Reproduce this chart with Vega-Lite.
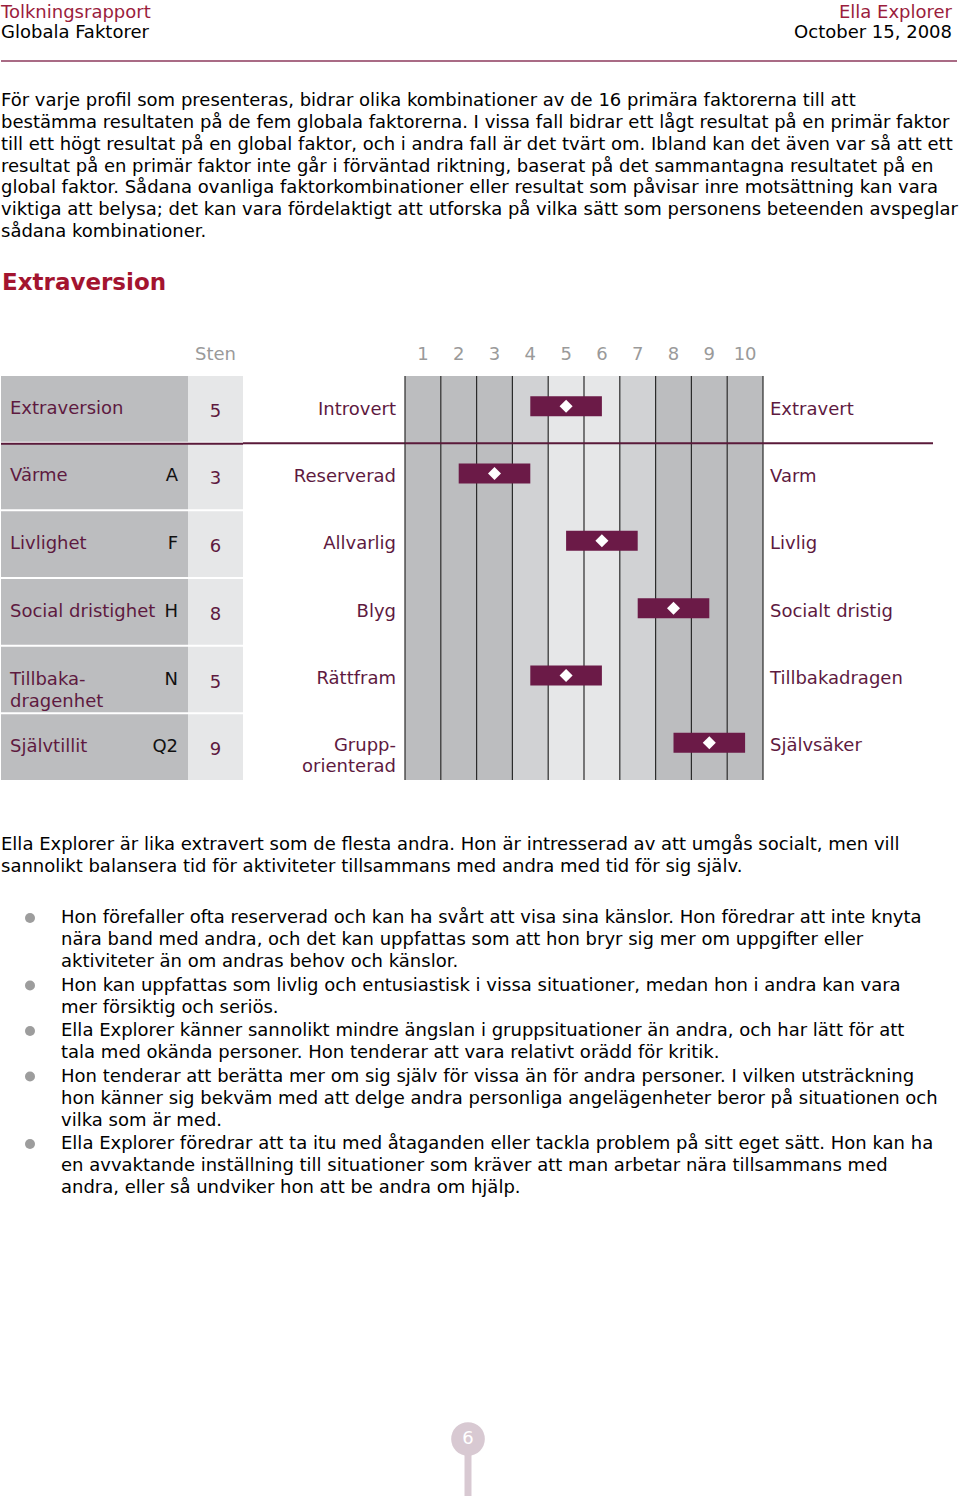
{
  "$schema": "https://vega.github.io/schema/vega-lite/v6.json",
  "padding": 0,
  "background": "white",
  "spacing": 0,
  "resolve": {"scale": {"color": "independent"}},
  "config": {
    "view": {"stroke": null},
    "text": {"font": "DejaVu Sans"},
    "axis": {"labelFont": "DejaVu Sans"}
  },
  "datasets": {
    "header": [
      {"line": 1, "left": "Tolkningsrapport", "right": "Ella Explorer"},
      {"line": 2, "left": "Globala Faktorer", "right": "October 15, 2008"}
    ],
    "intro": [
      {"line": 1, "text": "För varje profil som presenteras, bidrar olika kombinationer av de 16 primära faktorerna till att"},
      {"line": 2, "text": "bestämma resultaten på de fem globala faktorerna. I vissa fall bidrar ett lågt resultat på en primär faktor"},
      {"line": 3, "text": "till ett högt resultat på en global faktor, och i andra fall är det tvärt om. Ibland kan det även var så att ett"},
      {"line": 4, "text": "resultat på en primär faktor inte går i förväntad riktning, baserat på det sammantagna resultatet på en"},
      {"line": 5, "text": "global faktor. Sådana ovanliga faktorkombinationer eller resultat som påvisar inre motsättning kan vara"},
      {"line": 6, "text": "viktiga att belysa; det kan vara fördelaktigt att utforska på vilka sätt som personens beteenden avspeglar"},
      {"line": 7, "text": "sådana kombinationer."}
    ],
    "factors": [
      {"factor": "Extraversion", "label": "Extraversion", "code": "", "sten": 5, "lo": 4, "hi": 6, "left": "Introvert", "right": "Extravert"},
      {"factor": "Värme", "label": "Värme", "code": "A", "sten": 3, "lo": 2, "hi": 4, "left": "Reserverad", "right": "Varm"},
      {"factor": "Livlighet", "label": "Livlighet", "code": "F", "sten": 6, "lo": 5, "hi": 7, "left": "Allvarlig", "right": "Livlig"},
      {"factor": "Social dristighet", "label": "Social dristighet", "code": "H", "sten": 8, "lo": 7, "hi": 9, "left": "Blyg", "right": "Socialt dristig"},
      {"factor": "Tillbakadragenhet", "label": "Tillbaka-\ndragenhet", "code": "N", "sten": 5, "lo": 4, "hi": 6, "left": "Rättfram", "right": "Tillbakadragen"},
      {"factor": "Självtillit", "label": "Självtillit", "code": "Q2", "sten": 9, "lo": 8, "hi": 10, "left": "Grupp-\norienterad", "right": "Självsäker"}
    ],
    "columns": [
      {"sten": 1, "lo": 0.5, "hi": 1.5, "shade": "dark"},
      {"sten": 2, "lo": 1.5, "hi": 2.5, "shade": "dark"},
      {"sten": 3, "lo": 2.5, "hi": 3.5, "shade": "dark"},
      {"sten": 4, "lo": 3.5, "hi": 4.5, "shade": "mid"},
      {"sten": 5, "lo": 4.5, "hi": 5.5, "shade": "light"},
      {"sten": 6, "lo": 5.5, "hi": 6.5, "shade": "light"},
      {"sten": 7, "lo": 6.5, "hi": 7.5, "shade": "mid"},
      {"sten": 8, "lo": 7.5, "hi": 8.5, "shade": "dark"},
      {"sten": 9, "lo": 8.5, "hi": 9.5, "shade": "dark"},
      {"sten": 10, "lo": 9.5, "hi": 10.5, "shade": "dark"}
    ],
    "summary": [
      {"line": 1, "text": "Ella Explorer är lika extravert som de flesta andra. Hon är intresserad av att umgås socialt, men vill"},
      {"line": 2, "text": "sannolikt balansera tid för aktiviteter tillsammans med andra med tid för sig själv."}
    ],
    "bullets": [
      {"item": 1, "line": 1, "text": "Hon förefaller ofta reserverad och kan ha svårt att visa sina känslor. Hon föredrar att inte knyta"},
      {"item": 1, "line": 2, "text": "nära band med andra, och det kan uppfattas som att hon bryr sig mer om uppgifter eller"},
      {"item": 1, "line": 3, "text": "aktiviteter än om andras behov och känslor."},
      {"item": 2, "line": 1, "text": "Hon kan uppfattas som livlig och entusiastisk i vissa situationer, medan hon i andra kan vara"},
      {"item": 2, "line": 2, "text": "mer försiktig och seriös."},
      {"item": 3, "line": 1, "text": "Ella Explorer känner sannolikt mindre ängslan i gruppsituationer än andra, och har lätt för att"},
      {"item": 3, "line": 2, "text": "tala med okända personer. Hon tenderar att vara relativt orädd för kritik."},
      {"item": 4, "line": 1, "text": "Hon tenderar att berätta mer om sig själv för vissa än för andra personer. I vilken utsträckning"},
      {"item": 4, "line": 2, "text": "hon känner sig bekväm med att delge andra personliga angelägenheter beror på situationen och"},
      {"item": 4, "line": 3, "text": "vilka som är med."},
      {"item": 5, "line": 1, "text": "Ella Explorer föredrar att ta itu med åtaganden eller tackla problem på sitt eget sätt. Hon kan ha"},
      {"item": 5, "line": 2, "text": "en avvaktande inställning till situationer som kräver att man arbetar nära tillsammans med"},
      {"item": 5, "line": 3, "text": "andra, eller så undviker hon att be andra om hjälp."}
    ],
    "page": [{"page": "6"}]
  },
  "vconcat": [
    {
      "width": 951, "height": 50,
      "data": {"name": "header"},
      "layer": [
        {
          "mark": {"type": "text", "align": "left", "baseline": "middle", "fontSize": 18},
          "encoding": {
            "x": {"datum": "left", "type": "nominal", "scale": {"type": "point", "domain": ["left", "right"], "range": [0, 951], "padding": 0}, "axis": null},
            "y": {"field": "line", "type": "ordinal", "scale": {"type": "point", "domain": [1, 2], "range": [13, 33], "padding": 0}, "axis": null},
            "text": {"field": "left"},
            "color": {"condition": {"test": "datum.line === 1", "value": "#9b1d3d"}, "value": "#000000"}
          }
        },
        {
          "mark": {"type": "text", "align": "right", "baseline": "middle", "fontSize": 18},
          "encoding": {
            "x": {"datum": "right", "type": "nominal"},
            "y": {"field": "line", "type": "ordinal"},
            "text": {"field": "right"},
            "color": {"condition": {"test": "datum.line === 1", "value": "#9b1d3d"}, "value": "#000000"}
          }
        }
      ]
    },
    {
      "width": 956, "height": 22,
      "data": {"values": [{"divider": "header"}]},
      "mark": {"type": "rule", "color": "#8c3a5c", "strokeWidth": 1.5},
      "encoding": {
        "y": {"field": "divider", "type": "nominal", "scale": {"type": "point", "padding": 0.5}, "axis": null}
      }
    },
    {
      "width": 958, "height": 180,
      "data": {"name": "intro"},
      "mark": {"type": "text", "align": "left", "baseline": "middle", "fontSize": 18, "color": "#000"},
      "encoding": {
        "x": {"datum": "start", "type": "nominal", "scale": {"type": "point", "domain": ["start"], "range": [0, 0], "padding": 0}, "axis": null},
        "y": {"field": "line", "type": "ordinal", "scale": {"type": "point", "range": [29, 160], "padding": 0}, "axis": null},
        "text": {"field": "text"}
      }
    },
    {
      "width": 958, "height": 93,
      "data": {"values": [{"title": "Extraversion"}]},
      "mark": {"type": "text", "align": "left", "baseline": "middle", "fontSize": 23, "fontWeight": "bold", "color": "#a3142f"},
      "encoding": {
        "x": {"datum": "start", "type": "nominal", "scale": {"type": "point", "domain": ["start"], "range": [1, 1], "padding": 0}, "axis": null},
        "y": {"datum": "title", "type": "nominal", "scale": {"type": "point", "domain": ["title"], "range": [31, 31], "padding": 0}, "axis": null},
        "text": {"field": "title"}
      }
    },
    {
      "spacing": 0,
      "bounds": "flush",
      "hconcat": [
        {
          "width": 187, "height": 404,
          "data": {"name": "factors"},
          "layer": [
            {
              "mark": {"type": "rect", "color": "#bcbdbf"},
              "encoding": {
                "y": {"field": "factor", "type": "nominal", "scale": {"type": "band", "domain": ["Extraversion", "Värme", "Livlighet", "Social dristighet", "Tillbakadragenhet", "Självtillit"], "paddingInner": 0.03, "paddingOuter": 0}, "axis": null}
              }
            },
            {
              "mark": {"type": "text", "align": "left", "baseline": "middle", "fontSize": 18, "color": "#5e1a3f", "lineBreak": "\n", "lineHeight": 22},
              "encoding": {
                "x": {"datum": "name", "type": "nominal", "scale": {"type": "point", "domain": ["name", "code"], "range": [9, 177], "padding": 0}, "axis": null},
                "y": {"field": "factor", "type": "nominal", "axis": null},
                "text": {"field": "label"}
              }
            },
            {
              "mark": {"type": "text", "align": "right", "baseline": "middle", "fontSize": 18, "color": "#111111"},
              "encoding": {
                "x": {"datum": "code", "type": "nominal"},
                "y": {"field": "factor", "type": "nominal", "axis": null},
                "text": {"field": "code"}
              }
            },
            {
              "transform": [{"filter": "datum.factor === 'Värme'"}],
              "mark": {"type": "rule", "color": "#5a1a3a", "strokeWidth": 2},
              "encoding": {
                "y": {"field": "factor", "type": "nominal", "bandPosition": 0, "axis": null}
              }
            }
          ]
        },
        {
          "width": 55, "height": 404,
          "data": {"name": "factors"},
          "layer": [
            {
              "mark": {"type": "rect", "color": "#e6e7e8"},
              "encoding": {
                "x": {"datum": "Sten", "type": "nominal", "scale": {"type": "band", "paddingInner": 0, "paddingOuter": 0}, "axis": null},
                "y": {"field": "factor", "type": "nominal", "scale": {"type": "band", "domain": ["Extraversion", "Värme", "Livlighet", "Social dristighet", "Tillbakadragenhet", "Självtillit"], "paddingInner": 0.03, "paddingOuter": 0}, "axis": null}
              }
            },
            {
              "mark": {"type": "text", "align": "center", "baseline": "middle", "fontSize": 18, "color": "#5e1a3f", "dy": 3},
              "encoding": {
                "x": {"datum": "Sten", "type": "nominal"},
                "y": {"field": "factor", "type": "nominal", "axis": null},
                "text": {"field": "sten"}
              }
            },
            {
              "data": {"values": [{"header": "Sten"}]},
              "mark": {"type": "text", "align": "center", "baseline": "middle", "fontSize": 18, "color": "#9a9a9a", "yOffset": -54},
              "encoding": {
                "x": {"datum": "Sten", "type": "nominal"},
                "y": {"datum": "Extraversion", "type": "nominal", "axis": null},
                "text": {"field": "header"}
              }
            },
            {
              "transform": [{"filter": "datum.factor === 'Värme'"}],
              "mark": {"type": "rule", "color": "#5a1a3a", "strokeWidth": 2},
              "encoding": {
                "y": {"field": "factor", "type": "nominal", "bandPosition": 0, "axis": null}
              }
            }
          ]
        },
        {
          "width": 162, "height": 404,
          "data": {"name": "factors"},
          "layer": [
            {
              "mark": {"type": "text", "align": "right", "baseline": "middle", "fontSize": 18, "color": "#5e1a3f", "lineBreak": "\n", "lineHeight": 21},
              "encoding": {
                "x": {"datum": "pole", "type": "nominal", "scale": {"type": "point", "domain": ["pole"], "range": [153, 153], "padding": 0}, "axis": null},
                "y": {"field": "factor", "type": "nominal", "scale": {"type": "band", "domain": ["Extraversion", "Värme", "Livlighet", "Social dristighet", "Tillbakadragenhet", "Självtillit"], "paddingInner": 0, "paddingOuter": 0}, "axis": null},
                "text": {"field": "left"}
              }
            },
            {
              "transform": [{"filter": "datum.factor === 'Värme'"}],
              "mark": {"type": "rule", "color": "#5a1a3a", "strokeWidth": 2},
              "encoding": {
                "y": {"field": "factor", "type": "nominal", "bandPosition": 0, "axis": null}
              }
            }
          ]
        },
        {
          "width": 358, "height": 404,
          "layer": [
            {
              "data": {"name": "columns"},
              "mark": {"type": "rect"},
              "encoding": {
                "x": {"field": "lo", "type": "quantitative", "scale": {"domain": [0.5, 10.5], "nice": false, "zero": false}, "axis": null},
                "x2": {"field": "hi"},
                "color": {"field": "shade", "type": "nominal", "scale": {"domain": ["dark", "mid", "light"], "range": ["#bcbdbf", "#d1d2d4", "#e6e7e8"]}, "legend": null}
              }
            },
            {
              "data": {"name": "columns"},
              "mark": {"type": "rule", "color": "#2b2b2b", "strokeWidth": 1.2},
              "encoding": {"x": {"field": "lo", "type": "quantitative"}}
            },
            {
              "data": {"name": "columns"},
              "transform": [{"filter": "datum.sten === 10"}],
              "mark": {"type": "rule", "color": "#2b2b2b", "strokeWidth": 1.2},
              "encoding": {"x": {"field": "hi", "type": "quantitative"}}
            },
            {
              "data": {"name": "columns"},
              "mark": {"type": "text", "align": "center", "baseline": "middle", "fontSize": 18, "color": "#9a9a9a", "yOffset": -54.7},
              "encoding": {
                "x": {"field": "sten", "type": "quantitative"},
                "y": {"datum": "Extraversion", "type": "nominal", "axis": null},
                "text": {"field": "sten"}
              }
            },
            {
              "data": {"name": "factors"},
              "transform": [{"filter": "datum.factor === 'Värme'"}],
              "mark": {"type": "rule", "color": "#5a1a3a", "strokeWidth": 2},
              "encoding": {
                "y": {"field": "factor", "type": "nominal", "bandPosition": 0, "scale": {"type": "band", "domain": ["Extraversion", "Värme", "Livlighet", "Social dristighet", "Tillbakadragenhet", "Självtillit"], "paddingInner": 0, "paddingOuter": 0}, "axis": null}
              }
            },
            {
              "data": {"name": "factors"},
              "mark": {"type": "bar", "height": 20, "yOffset": -3.5, "color": "#6b1a47"},
              "encoding": {
                "x": {"field": "lo", "type": "quantitative"},
                "x2": {"field": "hi"},
                "y": {"field": "factor", "type": "nominal", "axis": null}
              }
            },
            {
              "data": {"name": "factors"},
              "mark": {"type": "point", "shape": "diamond", "filled": true, "color": "#ffffff", "opacity": 1, "size": 170, "yOffset": -3.5},
              "encoding": {
                "x": {"field": "sten", "type": "quantitative"},
                "y": {"field": "factor", "type": "nominal", "axis": null}
              }
            }
          ]
        },
        {
          "width": 170, "height": 404,
          "data": {"name": "factors"},
          "layer": [
            {
              "mark": {"type": "text", "align": "left", "baseline": "middle", "fontSize": 18, "color": "#5e1a3f"},
              "encoding": {
                "x": {"datum": "pole", "type": "nominal", "scale": {"type": "point", "domain": ["pole"], "range": [7, 7], "padding": 0}, "axis": null},
                "y": {"field": "factor", "type": "nominal", "scale": {"type": "band", "domain": ["Extraversion", "Värme", "Livlighet", "Social dristighet", "Tillbakadragenhet", "Självtillit"], "paddingInner": 0, "paddingOuter": 0}, "axis": null},
                "text": {"field": "right"}
              }
            },
            {
              "transform": [{"filter": "datum.factor === 'Värme'"}],
              "mark": {"type": "rule", "color": "#5a1a3a", "strokeWidth": 2},
              "encoding": {
                "y": {"field": "factor", "type": "nominal", "bandPosition": 0, "axis": null}
              }
            }
          ]
        }
      ]
    },
    {
      "width": 958, "height": 126,
      "data": {"name": "summary"},
      "mark": {"type": "text", "align": "left", "baseline": "middle", "fontSize": 18, "color": "#000"},
      "encoding": {
        "x": {"datum": "start", "type": "nominal", "scale": {"type": "point", "domain": ["start"], "range": [0, 0], "padding": 0}, "axis": null},
        "y": {"field": "line", "type": "ordinal", "scale": {"type": "point", "range": [64, 86], "padding": 0}, "axis": null},
        "text": {"field": "text"}
      }
    },
    {
      "spacing": 1.5,
      "vconcat": [
        {
          "width": 958, "height": 66,
          "data": {"name": "bullets"},
          "transform": [{"filter": "datum.item === 1"}],
          "layer": [
            {
              "transform": [{"filter": "datum.line === 1"}],
              "mark": {"type": "circle", "color": "#9d9d9d", "size": 100, "opacity": 1},
              "encoding": {
                "x": {"datum": "bullet", "type": "nominal", "scale": {"type": "point", "domain": ["bullet", "text"], "range": [29, 60], "padding": 0}, "axis": null},
                "y": {"field": "line", "type": "ordinal", "scale": {"type": "point", "domain": [1, 2, 3], "padding": 0.5}, "axis": null}
              }
            },
            {
              "mark": {"type": "text", "align": "left", "baseline": "middle", "fontSize": 18, "color": "#000"},
              "encoding": {
                "x": {"datum": "text", "type": "nominal"},
                "y": {"field": "line", "type": "ordinal"},
                "text": {"field": "text"}
              }
            }
          ]
        },
        {
          "width": 958, "height": 44,
          "data": {"name": "bullets"},
          "transform": [{"filter": "datum.item === 2"}],
          "layer": [
            {
              "transform": [{"filter": "datum.line === 1"}],
              "mark": {"type": "circle", "color": "#9d9d9d", "size": 100, "opacity": 1},
              "encoding": {
                "x": {"datum": "bullet", "type": "nominal", "scale": {"type": "point", "domain": ["bullet", "text"], "range": [29, 60], "padding": 0}, "axis": null},
                "y": {"field": "line", "type": "ordinal", "scale": {"type": "point", "domain": [1, 2], "padding": 0.5}, "axis": null}
              }
            },
            {
              "mark": {"type": "text", "align": "left", "baseline": "middle", "fontSize": 18, "color": "#000"},
              "encoding": {
                "x": {"datum": "text", "type": "nominal"},
                "y": {"field": "line", "type": "ordinal"},
                "text": {"field": "text"}
              }
            }
          ]
        },
        {
          "width": 958, "height": 44,
          "data": {"name": "bullets"},
          "transform": [{"filter": "datum.item === 3"}],
          "layer": [
            {
              "transform": [{"filter": "datum.line === 1"}],
              "mark": {"type": "circle", "color": "#9d9d9d", "size": 100, "opacity": 1},
              "encoding": {
                "x": {"datum": "bullet", "type": "nominal", "scale": {"type": "point", "domain": ["bullet", "text"], "range": [29, 60], "padding": 0}, "axis": null},
                "y": {"field": "line", "type": "ordinal", "scale": {"type": "point", "domain": [1, 2], "padding": 0.5}, "axis": null}
              }
            },
            {
              "mark": {"type": "text", "align": "left", "baseline": "middle", "fontSize": 18, "color": "#000"},
              "encoding": {
                "x": {"datum": "text", "type": "nominal"},
                "y": {"field": "line", "type": "ordinal"},
                "text": {"field": "text"}
              }
            }
          ]
        },
        {
          "width": 958, "height": 66,
          "data": {"name": "bullets"},
          "transform": [{"filter": "datum.item === 4"}],
          "layer": [
            {
              "transform": [{"filter": "datum.line === 1"}],
              "mark": {"type": "circle", "color": "#9d9d9d", "size": 100, "opacity": 1},
              "encoding": {
                "x": {"datum": "bullet", "type": "nominal", "scale": {"type": "point", "domain": ["bullet", "text"], "range": [29, 60], "padding": 0}, "axis": null},
                "y": {"field": "line", "type": "ordinal", "scale": {"type": "point", "domain": [1, 2, 3], "padding": 0.5}, "axis": null}
              }
            },
            {
              "mark": {"type": "text", "align": "left", "baseline": "middle", "fontSize": 18, "color": "#000"},
              "encoding": {
                "x": {"datum": "text", "type": "nominal"},
                "y": {"field": "line", "type": "ordinal"},
                "text": {"field": "text"}
              }
            }
          ]
        },
        {
          "width": 958, "height": 66,
          "data": {"name": "bullets"},
          "transform": [{"filter": "datum.item === 5"}],
          "layer": [
            {
              "transform": [{"filter": "datum.line === 1"}],
              "mark": {"type": "circle", "color": "#9d9d9d", "size": 100, "opacity": 1},
              "encoding": {
                "x": {"datum": "bullet", "type": "nominal", "scale": {"type": "point", "domain": ["bullet", "text"], "range": [29, 60], "padding": 0}, "axis": null},
                "y": {"field": "line", "type": "ordinal", "scale": {"type": "point", "domain": [1, 2, 3], "padding": 0.5}, "axis": null}
              }
            },
            {
              "mark": {"type": "text", "align": "left", "baseline": "middle", "fontSize": 18, "color": "#000"},
              "encoding": {
                "x": {"datum": "text", "type": "nominal"},
                "y": {"field": "line", "type": "ordinal"},
                "text": {"field": "text"}
              }
            }
          ]
        }
      ]
    },
    {
      "width": 934, "height": 303,
      "data": {"name": "page"},
      "layer": [
        {
          "mark": {"type": "rule", "color": "#d8c9d2", "strokeWidth": 7},
          "encoding": {
            "y": {"datum": 0, "type": "quantitative", "scale": {"domain": [0, 1], "range": [240, 297]}, "axis": null},
            "y2": {"datum": 1}
          }
        },
        {
          "mark": {"type": "circle", "color": "#d8c9d2", "size": 1134, "opacity": 1},
          "encoding": {
            "y": {"datum": 0, "type": "quantitative"}
          }
        },
        {
          "mark": {"type": "text", "align": "center", "baseline": "middle", "fontSize": 18, "color": "#ffffff"},
          "encoding": {
            "y": {"datum": 0, "type": "quantitative"},
            "text": {"field": "page"}
          }
        }
      ]
    }
  ]
}
